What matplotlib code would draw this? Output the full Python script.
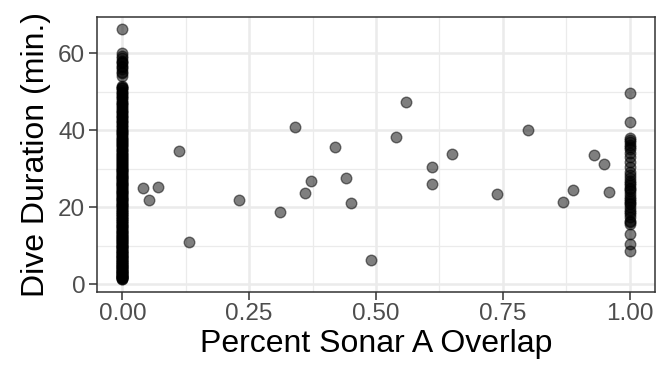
import matplotlib
matplotlib.use("Agg")
import matplotlib.pyplot as plt
from matplotlib.ticker import MultipleLocator

plt.rcParams['font.family'] = ['Liberation Sans', 'DejaVu Sans']

# Dives with no overlap (x = 0)
zero_durations = [
    1.3, 1.5, 1.7, 1.9, 2.1, 2.3, 2.6, 2.8, 3.0, 3.3, 3.5, 3.8, 4.1, 4.3, 4.6,
    5.0, 5.3, 5.6, 6.0, 6.3, 6.7, 7.0, 7.4, 7.8, 8.1, 8.5, 8.9, 9.3, 9.7, 10.0,
    10.4, 10.8, 11.2, 11.6, 12.0, 12.4, 12.8, 13.2, 13.6, 14.0, 14.5, 15.0,
    15.4, 15.8, 16.3, 16.8, 17.2, 17.7, 18.1, 18.6, 19.0, 19.5, 20.0, 20.4,
    20.9, 21.3, 21.8, 22.2, 22.7, 23.1, 23.6, 24.0, 24.5, 25.0, 25.4, 25.9,
    26.3, 26.8, 27.2, 27.7, 28.1, 28.6, 29.0, 29.5, 30.0, 30.5, 31.0, 31.5,
    32.0, 32.5, 33.0, 33.6, 34.1, 34.7, 35.2, 35.8, 36.3, 36.9, 37.4, 38.0,
    38.6, 39.2, 39.8, 40.4, 41.0, 41.7, 42.3, 43.0, 43.6, 44.3, 45.0, 45.7,
    46.4, 47.1, 47.8, 48.5, 49.3, 50.0, 50.8, 51.5,
    1.4, 1.8, 2.4, 2.9, 3.6, 4.4, 5.1, 5.8, 6.5, 7.2, 8.0, 8.7, 9.5, 10.2,
    11.0, 11.8, 12.6, 13.4, 14.2, 15.2, 16.0, 17.0, 17.9, 18.8, 19.7, 20.6,
    21.5, 22.4, 23.3, 24.2, 25.2, 26.1, 27.0, 27.9, 28.8, 29.7, 30.7, 31.7,
    32.7, 33.8, 34.9, 36.0, 37.1, 38.3, 39.5, 40.7, 42.0, 43.3, 44.6, 46.0,
    47.4, 48.9, 50.3, 51.2,
    1.6, 2.2, 3.1, 3.9, 4.8, 5.5, 6.2, 6.9, 7.6, 8.3, 9.1, 9.9, 10.6, 11.4,
    12.2, 13.0, 13.8, 14.7, 15.6, 16.5, 17.4, 18.3, 19.2, 20.2, 21.1, 22.0,
    22.9, 23.8, 24.8, 25.6, 26.6, 27.5, 28.4, 29.3, 30.2, 31.2, 32.2, 33.3,
    34.4, 35.5, 36.6, 37.8, 38.9, 40.1, 41.4, 42.7, 44.0, 45.3, 46.7, 48.2,
    49.7, 51.0,
    54.1, 54.8, 55.0, 55.8, 56.3, 56.6, 57.3, 57.8, 58.0, 58.6, 59.2, 60.0,
    66.2,
]

# Dives with full overlap (x = 1)
full_durations = [
    8.6, 10.5, 13.0, 15.7, 16.5, 17.4, 18.3, 19.1, 20.0, 20.8, 21.6, 22.5,
    23.3, 24.1, 25.0, 25.8, 26.7, 27.5, 28.4, 29.2, 30.5, 31.8, 33.0, 34.0,
    35.0, 36.0, 37.0, 37.9, 42.0, 49.7, 16.0, 18.8, 21.0, 22.0, 24.6, 26.2,
    35.5, 37.5,
]

# Dives with partial overlap
partial_overlap = [
    0.040, 0.052, 0.071, 0.111, 0.131, 0.230, 0.310, 0.340, 0.360, 0.371,
    0.420, 0.440, 0.450, 0.490, 0.539, 0.559, 0.610, 0.610, 0.649, 0.739,
    0.799, 0.869, 0.888, 0.929, 0.949, 0.959,
]
partial_durations = [
    25.0, 21.9, 25.2, 34.5, 11.0, 21.9, 18.6, 40.9, 23.6, 26.7,
    35.5, 27.6, 21.0, 6.3, 38.1, 47.2, 30.5, 26.1, 33.7, 23.4,
    39.9, 21.4, 24.5, 33.6, 31.2, 24.0,
]

x_ticks = [0.00, 0.25, 0.50, 0.75, 1.00]
x_tick_labels = ["0.00", "0.25", "0.50", "0.75", "1.00"]
y_ticks = [0, 20, 40, 60]

xs = [0.0] * len(zero_durations) + partial_overlap + [1.0] * len(full_durations)
ys = zero_durations + partial_durations + full_durations

fig = plt.figure(figsize=(6.72, 3.84), dpi=100)
ax = fig.add_axes([97 / 672, 1 - 291.5 / 384, (655 - 97) / 672, (291.5 - 16.7) / 384])

ax.scatter(xs, ys, s=58, facecolor=(0, 0, 0, 0.5), edgecolor=(0, 0, 0, 0.5),
           linewidth=1.0, zorder=3)

ax.margins(x=0.05, y=0.05)
ax.set_xticks(x_ticks)
ax.set_xticklabels(x_tick_labels)
ax.set_yticks(y_ticks)
ax.xaxis.set_minor_locator(MultipleLocator(0.125))
ax.yaxis.set_minor_locator(MultipleLocator(10))

ax.grid(which='major', color='#EBEBEB', linewidth=1.8, zorder=0)
ax.grid(which='minor', color='#EBEBEB', linewidth=0.9, zorder=0)
ax.set_axisbelow(True)

for sp in ax.spines.values():
    sp.set_color('#333333')
    sp.set_linewidth(1.1)

ax.tick_params(which='major', length=5.5, width=1.1, color='#333333',
               labelsize=17.5, labelcolor='#4D4D4D', pad=3)
ax.tick_params(which='minor', length=0)

ax.set_xlabel("Percent Sonar A Overlap", fontsize=23, color='black', labelpad=3)
ax.set_ylabel("Dive Duration (min.)", fontsize=23, color='black', labelpad=5)

fig.savefig("out.png", dpi=100)
